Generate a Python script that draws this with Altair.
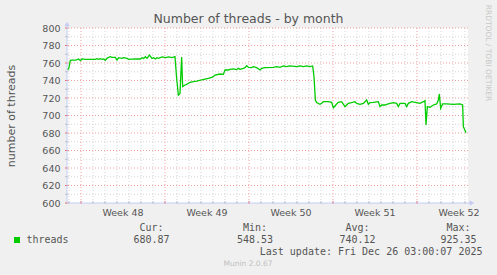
import altair as alt
import pandas as pd

# ---- data (hours since left edge of graph, value) ----
hours = [0, 3.3, 6.7, 10, 16.7, 20, 23.3, 26.7, 30, 36.7, 46.7, 56.7, 60, 63.3, 66.7, 70, 73.3,
         76.7, 80, 83.3, 86.7, 90, 96.7, 100, 103.3, 110, 113.3, 120, 123.3, 136.7, 146.7, 150,
         153.3, 156.7, 160, 164.7, 170, 173.3, 176.7, 180, 183.3, 190, 196.7, 203.3, 210, 216,
         219.3, 222.7, 226, 229.3, 231.3, 236, 239.3, 242.7, 246, 252.7, 259.3, 269.3, 276,
         282.7, 289.3, 292.7, 296, 306, 312.7, 316, 322.7, 326, 332.7, 339.3, 342.7, 346, 352.7,
         356, 359.3, 362.7, 369.3, 372.7, 379.3, 386, 389.3, 396, 412.7, 419.3, 426, 432.7,
         439.3, 446, 459.3, 466, 472.7, 479.3, 486, 491.3, 494, 496.7, 499.3, 506, 509.3, 512.7,
         522.7, 529.3, 532.7, 536, 539.3, 542.7, 549.3, 556, 559.3, 562.7, 569.3, 576, 579.3,
         586, 592.7, 599.3, 602.7, 606, 612.7, 622.7, 626, 629.3, 636, 639.3, 646, 652.7, 659.3,
         662.7, 666, 676, 679.3, 682.7, 689.3, 699.3, 706, 712.7, 716, 718, 720.7, 726, 732.7,
         739.3, 742.7, 744.7, 747.3, 751.3, 759.3, 772.7, 786, 791.3, 792.7, 798]
threads = [752.8, 753.1, 763.0, 763.4, 763.4, 763.8, 764.6, 762.7, 764.6, 764.2, 764.2, 764.2,
           764.9, 764.2, 764.9, 764.2, 764.6, 763.0, 765.3, 766.5, 767.2, 766.5, 766.5, 763.4,
           766.1, 765.3, 766.1, 765.3, 764.2, 764.6, 764.6, 766.1, 765.3, 767.2, 765.3, 769.1,
           765.3, 766.1, 764.6, 766.1, 765.3, 766.9, 766.1, 766.9, 766.1, 767.2, 742.5, 723.4,
           725.3, 766.9, 733.0, 734.9, 735.6, 736.8, 737.9, 738.7, 739.4, 740.6, 741.7, 742.5,
           743.6, 744.4, 746.3, 747.4, 747.0, 752.0, 752.0, 752.8, 753.2, 752.4, 753.9, 752.8,
           753.9, 754.7, 757.0, 755.1, 754.7, 755.8, 754.7, 752.0, 753.9, 754.7, 755.0, 755.8,
           755.0, 756.6, 755.8, 756.6, 755.8, 756.6, 755.8, 756.6, 755.8, 756.6, 744.4, 717.7,
           714.7, 712.8, 713.9, 715.8, 715.8, 715.0, 708.9, 710.9, 713.2, 715.0, 715.8, 710.1,
           712.0, 713.9, 714.7, 715.8, 713.9, 712.8, 713.9, 717.7, 712.8, 714.7, 715.0, 715.8,
           710.1, 712.0, 712.0, 712.8, 713.9, 714.7, 713.9, 710.1, 713.9, 713.9, 710.1, 713.9,
           715.8, 714.7, 713.9, 715.8, 717.0, 689.1, 710.1, 709.3, 712.0, 713.2, 717.7, 724.6,
           708.2, 713.2, 713.2, 712.8, 713.2, 712.0, 687.2, 680.4]

x_max = 802
y_ticks = [600, 620, 640, 660, 680, 700, 720, 740, 760, 780, 800]
y_minor = [610, 630, 650, 670, 690, 710, 730, 750, 770, 790]
week_lines = [28, 196, 364, 532, 700]
day_lines = [4, 52, 76, 100, 124, 148, 172, 220, 244, 268, 292, 316, 340, 388, 412, 436, 460,
             484, 508, 556, 580, 604, 628, 652, 676, 724, 748, 772, 796]
week_label_pos = [112, 280, 448, 616, 784]
week_labels = ["Week 48", "Week 49", "Week 50", "Week 51", "Week 52"]
stat_heads = ["Cur:", "Min:", "Avg:", "Max:"]
stat_vals = ["680.87", "548.53", "740.12", "925.35"]
stat_x = [84.5, 188, 290.5, 391.5]

W, H = 401, 175
xs = alt.Scale(domain=[0, x_max], nice=False, zero=False)
ys = alt.Scale(domain=[600, 800], nice=False, zero=False)

GRID = "#d4d4d4"
MGRID = "#f0a0a0"
AXIS = "#c4ccf4"
FONT = "#555555"

YAXIS = alt.Axis(
    values=y_ticks, domain=False, ticks=False, grid=False, labelPadding=7,
    labelFontSize=9.5, labelColor=FONT, labelFont="DejaVu Sans",
    title="number of threads", titleFont="DejaVu Sans", titleFontSize=11,
    titleFontWeight="normal", titleColor=FONT, titleX=-56, titleY=H / 2,
    titleAngle=-90, titleAlign="center", titleBaseline="middle")


def Y(field):
    return alt.Y(field, scale=ys, axis=YAXIS)


def X(field):
    return alt.X(field, scale=xs, axis=None)


df = pd.DataFrame({"h": hours, "v": threads})

minor_h = alt.Chart(pd.DataFrame({"v": y_minor})).mark_rule(
    color=GRID, strokeDash=[1, 2], strokeWidth=1).encode(y=Y("v:Q"))
minor_v = alt.Chart(pd.DataFrame({"h": day_lines})).mark_rule(
    color=GRID, strokeDash=[1, 2], strokeWidth=1).encode(x=X("h:Q"))
major_h = alt.Chart(pd.DataFrame({"v": y_ticks[1:]})).mark_rule(
    color=MGRID, strokeDash=[1, 2], strokeWidth=1).encode(y=Y("v:Q"))
major_v = alt.Chart(pd.DataFrame({"h": week_lines})).mark_rule(
    color=MGRID, strokeDash=[1, 2], strokeWidth=1).encode(x=X("h:Q"))

# small ticks on the axes
tick_day = alt.Chart(pd.DataFrame({"h": day_lines})).mark_rule(color="#bbbbbb").encode(
    x=X("h:Q"), y=alt.value(H - 2), y2=alt.value(H + 1))
tick_week = alt.Chart(pd.DataFrame({"h": week_lines})).mark_rule(color="#f06060").encode(
    x=X("h:Q"), y=alt.value(H - 2), y2=alt.value(H + 1))
tick_ymin = alt.Chart(pd.DataFrame({"v": y_minor})).mark_rule(color="#bbbbbb").encode(
    y=Y("v:Q"), x=alt.value(-2), x2=alt.value(1))
tick_ymaj = alt.Chart(pd.DataFrame({"v": y_ticks})).mark_rule(color="#f06060").encode(
    y=Y("v:Q"), x=alt.value(-2), x2=alt.value(1))

line = alt.Chart(df).mark_line(color="#00cc00", strokeWidth=1.3, interpolate="linear").encode(
    x=X("h:Q"), y=Y("v:Q"))

axis_left = alt.Chart(pd.DataFrame({"a": [0]})).mark_rule(color=AXIS).encode(
    x=alt.value(0), y=alt.value(-4), y2=alt.value(H))
axis_bottom = alt.Chart(pd.DataFrame({"a": [0]})).mark_rule(color=AXIS).encode(
    x=alt.value(0), x2=alt.value(W + 3), y=alt.value(H))
arrow_up = alt.Chart(pd.DataFrame({"a": [0]})).mark_point(
    shape="triangle-up", filled=True, color=AXIS, size=30, opacity=1).encode(
    x=alt.value(0), y=alt.value(-4))
arrow_right = alt.Chart(pd.DataFrame({"a": [0]})).mark_point(
    shape="triangle-right", filled=True, color=AXIS, size=30, opacity=1).encode(
    x=alt.value(W + 4), y=alt.value(H))

week_text = alt.Chart(pd.DataFrame({"h": week_label_pos, "t": week_labels})).mark_text(
    font="DejaVu Sans", fontSize=9.5, color=FONT, baseline="middle", align="center").encode(
    x=X("h:Q"), y=alt.value(H + 9.7), text="t:N")

title = alt.Chart(pd.DataFrame({"t": ["Number of threads - by month"]})).mark_text(
    font="DejaVu Sans", fontSize=12.5, color=FONT, baseline="middle", align="center").encode(
    x=alt.value(181.5), y=alt.value(-9), text="t:N")

rrd = alt.Chart(pd.DataFrame({"t": ["RRDTOOL / TOBI OETIKER"]})).mark_text(
    font="DejaVu Sans", fontSize=7.5, color="#c8c8c8", baseline="middle", align="center",
    angle=90).encode(x=alt.value(421.3), y=alt.value(25), text="t:N")

MONO = "DejaVu Sans Mono"
swatch = alt.Chart(pd.DataFrame({"a": [0]})).mark_square(
    color="#00cc00", size=36, opacity=1, filled=True).encode(
    x=alt.value(-50), y=alt.value(212))
series_name = alt.Chart(pd.DataFrame({"t": ["threads"]})).mark_text(
    font=MONO, fontSize=10, color=FONT, baseline="middle", align="left").encode(
    x=alt.value(-40.5), y=alt.value(211.5), text="t:N")
heads = alt.Chart(pd.DataFrame({"t": stat_heads, "px": stat_x})).mark_text(
    font=MONO, fontSize=10, color=FONT, baseline="middle", align="center").encode(
    x=alt.X("px:Q", scale=None), y=alt.value(200.3), text="t:N")
vals = alt.Chart(pd.DataFrame({"t": stat_vals, "px": stat_x})).mark_text(
    font=MONO, fontSize=10, color=FONT, baseline="middle", align="center").encode(
    x=alt.X("px:Q", scale=None), y=alt.value(211.5), text="t:N")
last = alt.Chart(pd.DataFrame({"t": ["Last update: Fri Dec 26 03:00:07 2025"]})).mark_text(
    font=MONO, fontSize=10, color=FONT, baseline="middle", align="right").encode(
    x=alt.value(415.5), y=alt.value(223.7), text="t:N")
munin = alt.Chart(pd.DataFrame({"t": ["Munin 2.0.67"]})).mark_text(
    font="DejaVu Sans", fontSize=7.5, color="#c0c0c0", baseline="middle", align="center").encode(
    x=alt.value(181), y=alt.value(235.7), text="t:N")

chart = alt.layer(
    minor_h, minor_v, major_h, major_v, tick_day, tick_week, tick_ymin, tick_ymaj,
    line, axis_left, axis_bottom, arrow_up, arrow_right, week_text, title, rrd,
    swatch, series_name, heads, vals, last, munin
).resolve_scale(x="shared", y="shared").properties(
    width=W, height=H,
    autosize=alt.AutoSizeParams(type="none"),
    padding={"left": 67, "top": 28, "right": 29, "bottom": 72},
    background="#f0f0f0",
).configure_view(fill="white", stroke=None)

chart.save("out.html", embed_options={"renderer": "svg", "actions": False})
